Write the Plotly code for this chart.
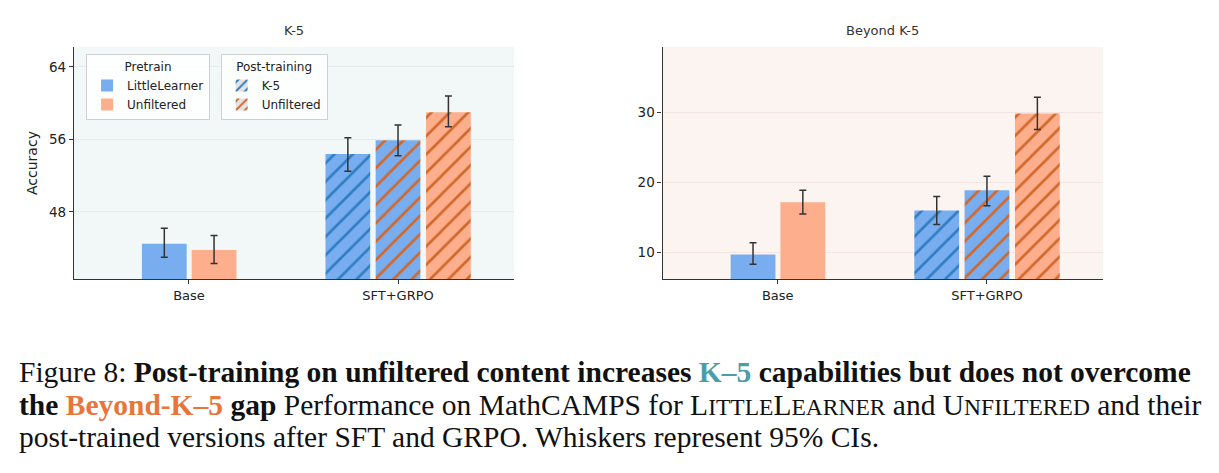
import plotly.graph_objects as go

# bar order: Base/LittleLearner, Base/Unfiltered, SFT+GRPO (LL pretrain, K-5 post),
# SFT+GRPO (LL pretrain, Unfiltered post), SFT+GRPO (Unfiltered pretrain, Unfiltered post)
categories = ["Base", "SFT+GRPO"]
bar_category = ["Base", "Base", "SFT+GRPO", "SFT+GRPO", "SFT+GRPO"]
bar_pretrain = ["LittleLearner", "Unfiltered", "LittleLearner", "LittleLearner", "Unfiltered"]
bar_post = [None, None, "K-5", "Unfiltered", "Unfiltered"]

k5_mean = [44.5, 43.8, 54.4, 55.9, 59.0]
k5_lo = [43.0, 42.3, 52.5, 54.2, 57.4]
k5_hi = [46.2, 45.4, 56.2, 57.6, 60.8]

beyond_mean = [9.7, 17.2, 16.0, 18.9, 29.9]
beyond_lo = [8.3, 15.5, 14.0, 16.7, 27.6]
beyond_hi = [11.4, 18.9, 18.0, 20.9, 32.2]

k5_ticks = [48, 56, 64]
beyond_ticks = [10, 20, 30]

# styles
FILL = {"LittleLearner": "#78aeef", "Unfiltered": "#fdae8c"}
HATCH = {"K-5": "#2f7dc2", "Unfiltered": "#d2672a"}
BAR_OFFSET = [-0.225, 0.013, -0.347, -0.107, 0.134]
BAR_WIDTH = 0.214
FONT = "DejaVu Sans"

fig = go.Figure()


def add_panel(means, lo, hi, xa, ya):
    for i in range(len(means)):
        post = bar_post[i]
        pattern = dict(shape="")
        if post is not None:
            pattern = dict(shape="/", fgcolor=HATCH[post], bgcolor=FILL[bar_pretrain[i]],
                           size=13, solidity=0.2, fillmode="replace")
        fig.add_trace(go.Bar(
            x=[bar_category[i]], y=[means[i]],
            offset=BAR_OFFSET[i], width=BAR_WIDTH,
            marker=dict(color=FILL[bar_pretrain[i]], line=dict(width=0), pattern=pattern),
            error_y=dict(type="data", symmetric=False,
                         array=[hi[i] - means[i]], arrayminus=[means[i] - lo[i]],
                         color="#333333", thickness=1.5, width=3.5),
            xaxis=xa, yaxis=ya, showlegend=False, hoverinfo="y",
        ))


add_panel(k5_mean, k5_lo, k5_hi, "x", "y")
add_panel(beyond_mean, beyond_lo, beyond_hi, "x2", "y2")

# legend entries
for name in ["LittleLearner", "Unfiltered"]:
    fig.add_trace(go.Bar(x=[None], y=[None], name=name, legend="legend",
                         marker=dict(color=FILL[name], line=dict(width=0))))
for name in ["K-5", "Unfiltered"]:
    fig.add_trace(go.Bar(x=[None], y=[None], name=name, legend="legend2",
                         marker=dict(color="#e3e3e3", line=dict(width=0),
                                     pattern=dict(shape="/", fgcolor=HATCH[name], bgcolor="#e3e3e3",
                                                  size=8, solidity=0.3, fillmode="replace"))))

xcommon = dict(tickmode="array", tickvals=categories, ticktext=categories,
               range=[-0.55, 1.555], showline=True, linecolor="#333333", linewidth=1.3,
               ticks="outside", ticklen=4, tickcolor="#333333", showgrid=False, zeroline=False,
               tickfont=dict(family=FONT, size=13, color="#222222"), type="category")
ycommon = dict(showline=True, linecolor="#333333", linewidth=1.3, ticks="outside", ticklen=4,
               tickcolor="#333333", showgrid=True, gridwidth=1, zeroline=False,
               tickfont=dict(family=FONT, size=13.5, color="#222222"))

legend_common = dict(bgcolor="rgba(255,255,255,0.85)", bordercolor="#d0d0d0", borderwidth=1,
                     font=dict(family=FONT, size=12, color="#222222"),
                     xanchor="left", yanchor="top", itemwidth=30, tracegroupgap=0,
                     title=dict(side="top center", font=dict(family=FONT, size=12, color="#222222")))

fig.update_layout(
    width=1219, height=473,
    margin=dict(l=0, r=0, t=0, b=0),
    paper_bgcolor="white",
    plot_bgcolor="white",
    barmode="overlay",
    font=dict(family=FONT),
    xaxis=dict(domain=[0.0607, 0.4217], anchor="y", **xcommon),
    yaxis=dict(domain=[0.4101, 0.9006], anchor="x", range=[40.6, 66.2], tickvals=k5_ticks,
               gridcolor="#e4ecec",
               title=dict(text="Accuracy", font=dict(family=FONT, size=14, color="#222222"), standoff=8),
               **ycommon),
    xaxis2=dict(domain=[0.5436, 0.9049], anchor="y2", **xcommon),
    yaxis2=dict(domain=[0.4101, 0.9006], anchor="x2", range=[6.2, 39.4], tickvals=beyond_ticks,
                gridcolor="#f3e6e2", **ycommon),
    legend=dict(x=0.0706, y=0.885, title_text="Pretrain", **legend_common),
    legend2=dict(x=0.181, y=0.885, title_text="Post-training", **legend_common),
    shapes=[
        dict(type="rect", xref="x domain", yref="y domain", x0=0, x1=1, y0=0, y1=1,
             fillcolor="#f2f7f7", line=dict(width=0), layer="below"),
        dict(type="rect", xref="x2 domain", yref="y2 domain", x0=0, x1=1, y0=0, y1=1,
             fillcolor="#fcf4f1", line=dict(width=0), layer="below"),
    ],
)

# panel titles
for text, xc in [("K-5", 0.2412), ("Beyond K-5", 0.7242)]:
    fig.add_annotation(text=text, x=xc, y=1 - 31 / 473, xref="paper", yref="paper",
                       showarrow=False, xanchor="center", yanchor="middle",
                       font=dict(family=FONT, size=13, color="#333333"))

# caption
SC = "font-size:23.5px"
caption = [
    "Figure 8: <b>Post-training on unfiltered content increases "
    "<span style='color:#4b9ea8'>K–5</span> capabilities but does not overcome</b>",
    "<b>the <span style='color:#e8763a'>Beyond-K–5</span> gap</b> Performance on MathCAMPS for "
    f"L<span style='{SC}'>ITTLE</span>L<span style='{SC}'>EARNER</span> and "
    f"U<span style='{SC}'>NFILTERED</span> and their",
    "post-trained versions after SFT and GRPO. Whiskers represent 95% CIs.",
]
for k, line in enumerate(caption):
    fig.add_annotation(text=line, x=17 / 1219, y=1 - (372 + 32.5 * k) / 473,
                       xref="paper", yref="paper", showarrow=False,
                       xanchor="left", yanchor="middle",
                       font=dict(family="Liberation Serif", size=29.5, color="#111111"))

fig.write_html("out.html", config={"displayModeBar": False},
               post_script="document.body.style.margin='0';")
